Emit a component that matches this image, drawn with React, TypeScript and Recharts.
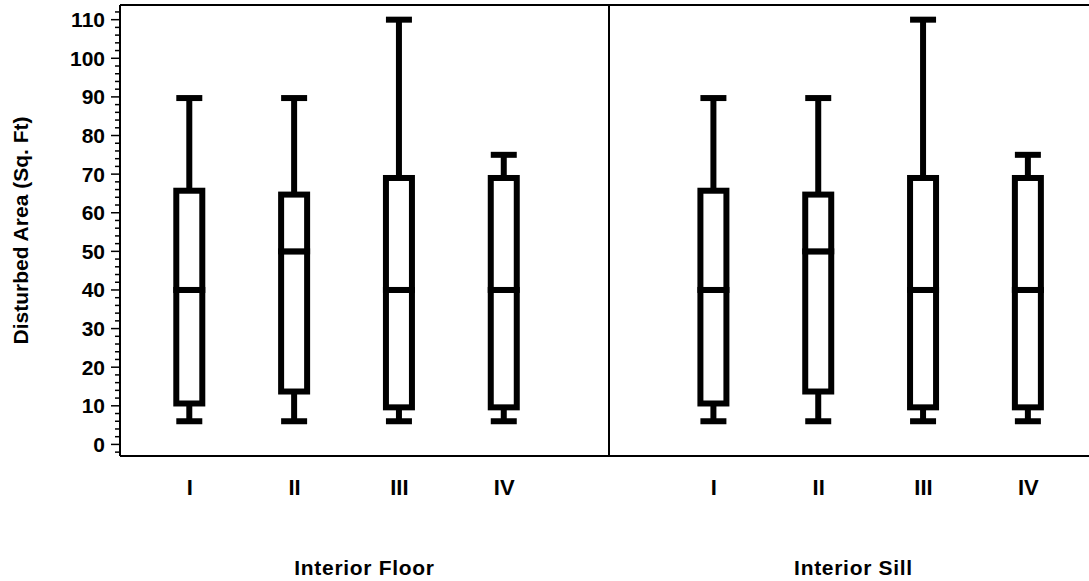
import React from 'react'
import { ComposedChart, Bar, XAxis, YAxis, ReferenceLine } from 'recharts'

const categories = ['I', 'II', 'III', 'IV']
const groups = ['Interior Floor', 'Interior Sill']

// box statistics (Sq. Ft)
const floorMin = [6, 6, 6, 6]
const floorQ1 = [10.6, 13.7, 9.6, 9.6]
const floorMedian = [40, 50, 40, 40]
const floorQ3 = [65.7, 64.7, 69, 69]
const floorMax = [89.7, 89.7, 110, 75]

const sillMin = [6, 6, 6, 6]
const sillQ1 = [10.6, 13.7, 9.6, 9.6]
const sillMedian = [40, 50, 40, 40]
const sillQ3 = [65.7, 64.7, 69, 69]
const sillMax = [89.7, 89.7, 110, 75]

const yTicks = [-2, 0, 2, 4, 6, 8, 10, 12, 14, 16, 18, 20, 22, 24, 26, 28, 30, 32, 34, 36, 38, 40, 42, 44, 46, 48, 50, 52, 54, 56, 58, 60, 62, 64, 66, 68, 70, 72, 74, 76, 78, 80, 82, 84, 86, 88, 90, 92, 94, 96, 98, 100, 102, 104, 106, 108, 110, 112]

const stats = [
    { min: floorMin, q1: floorQ1, median: floorMedian, q3: floorQ3, max: floorMax },
    { min: sillMin, q1: sillQ1, median: sillMedian, q3: sillQ3, max: sillMax },
]

const stride = categories.length + 1
const divider = stride - 1
const xMin = -0.665
const xMax = 2 * divider - xMin
const yMin = -3
const yMax = 113.8

const chartData = stats.flatMap((s, gi) => categories.map((c, ci) => ({
    pos: gi * stride + ci,
    label: c,
    base: s.min[ci],
    lowWhisker: s.q1[ci] - s.min[ci],
    lowBox: s.median[ci] - s.q1[ci],
    highBox: s.q3[ci] - s.median[ci],
    highWhisker: s.max[ci] - s.q3[ci],
})))

const groupTicks = [(xMin + divider) / 2, (divider + xMax) / 2]

const FONT = '"Liberation Sans", Arial, Helvetica, sans-serif'
const LW = 6
const HALF = 13

function Empty() {
    return <g />
}

function LowWhisker(p: any) {
    const cx = p.x + p.width / 2
    const bottom = p.y + p.height
    return (
        <g>
            <line x1={cx} x2={cx} y1={bottom} y2={p.y} stroke="#000" strokeWidth={LW} />
            <line x1={cx - HALF} x2={cx + HALF} y1={bottom} y2={bottom} stroke="#000" strokeWidth={LW} />
        </g>
    )
}

function HighWhisker(p: any) {
    const cx = p.x + p.width / 2
    return (
        <g>
            <line x1={cx} x2={cx} y1={p.y + p.height} y2={p.y} stroke="#000" strokeWidth={LW} />
            <line x1={cx - HALF} x2={cx + HALF} y1={p.y} y2={p.y} stroke="#000" strokeWidth={LW} />
        </g>
    )
}

function BoxHalf(p: any) {
    const cx = p.x + p.width / 2
    return <rect x={cx - HALF} y={p.y} width={HALF * 2} height={p.height} fill="#fff" stroke="#000" strokeWidth={LW} />
}

function YTick({ x, y, payload }: any) {
    const v = payload.value
    const major = v % 10 === 0 && v >= 0 && v <= 110
    return (
        <g>
            <line x1={x - (major ? 9 : 5)} x2={x} y1={y} y2={y} stroke="#000" strokeWidth={1.5} />
            {major && (
                <text x={x - 15} y={y} textAnchor="end" dominantBaseline="central"
                    style={{ fontFamily: FONT, fontWeight: 'bold', fontSize: 21, fill: '#000' }}>{v}</text>
            )}
        </g>
    )
}

function XTick({ x, y, payload }: any) {
    const row = chartData.find(d => d.pos === payload.value)
    return (
        <text x={x} y={y + 39} textAnchor="middle"
            style={{ fontFamily: FONT, fontWeight: 'bold', fontSize: 22, fill: '#000' }}>{row ? row.label : ''}</text>
    )
}

function GroupTick({ x, y, payload }: any) {
    const i = groupTicks.indexOf(payload.value)
    return (
        <text x={x} y={y + 59} textAnchor="middle"
            style={{ fontFamily: FONT, fontWeight: 'bold', fontSize: 21, letterSpacing: 0.7, fill: '#000' }}>{groups[i]}</text>
    )
}

function YTitle({ viewBox }: any) {
    const tx = 28
    const ty = viewBox.y + viewBox.height / 2
    return (
        <text x={tx} y={ty} textAnchor="middle" transform={`rotate(-90, ${tx}, ${ty})`}
            style={{ fontFamily: FONT, fontWeight: 'bold', fontSize: 21, fill: '#000' }}>
            Disturbed Area (Sq. Ft)
        </text>
    )
}

export default function App() {
    return (
        <div style={{ position: 'absolute', left: 0, top: 0, width: 1089, height: 581, overflow: 'hidden', background: '#fff' }}>
            <ComposedChart width={1098} height={581} data={chartData} margin={{ top: 5, right: 0, bottom: 0, left: 0 }}>
                <XAxis xAxisId="a" dataKey="pos" type="number" domain={[xMin, xMax]} allowDataOverflow
                    ticks={chartData.map(d => d.pos)} interval={0} tick={<XTick />} tickLine={false}
                    tickSize={0} tickMargin={0} height={60} axisLine={{ stroke: '#000', strokeWidth: 2 }} />
                <XAxis xAxisId="b" dataKey="pos" type="number" domain={[xMin, xMax]} allowDataOverflow
                    ticks={groupTicks} interval={0} tick={<GroupTick />} tickLine={false}
                    tickSize={0} tickMargin={0} height={65} axisLine={false} />
                <YAxis type="number" domain={[yMin, yMax]} allowDataOverflow ticks={yTicks} interval={0}
                    tick={<YTick />} tickLine={false} tickSize={0} tickMargin={0} width={120}
                    axisLine={{ stroke: '#000', strokeWidth: 2 }} label={<YTitle />} />
                <ReferenceLine xAxisId="a" y={yMax} stroke="#000" strokeWidth={2} ifOverflow="visible" />
                <ReferenceLine xAxisId="a" x={divider} stroke="#000" strokeWidth={2} />
                <Bar xAxisId="a" dataKey="base" stackId="box" barSize={32} shape={<Empty />} isAnimationActive={false} />
                <Bar xAxisId="a" dataKey="lowWhisker" stackId="box" barSize={32} shape={<LowWhisker />} isAnimationActive={false} />
                <Bar xAxisId="a" dataKey="lowBox" stackId="box" barSize={32} shape={<BoxHalf />} isAnimationActive={false} />
                <Bar xAxisId="a" dataKey="highBox" stackId="box" barSize={32} shape={<BoxHalf />} isAnimationActive={false} />
                <Bar xAxisId="a" dataKey="highWhisker" stackId="box" barSize={32} shape={<HighWhisker />} isAnimationActive={false} />
            </ComposedChart>
        </div>
    )
}
